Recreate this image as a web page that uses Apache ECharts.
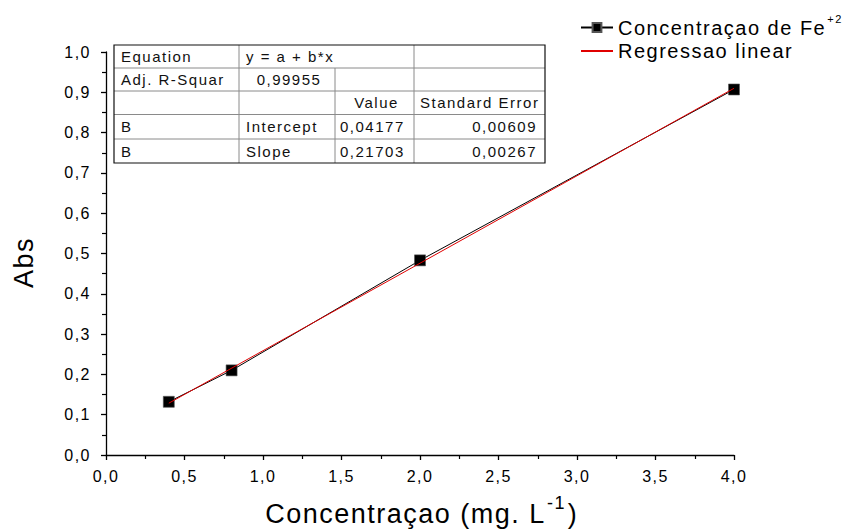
<!DOCTYPE html>
<html>
<head>
<meta charset="utf-8">
<script src="https://cdn.jsdelivr.net/npm/echarts@6/dist/echarts.min.js"></script>
<style>
  html, body { margin: 0; padding: 0; background: #fff; }
  #chart { width: 845px; height: 531px; }
  /* o Origin espaça as letras */
  #chart svg text { letter-spacing: 1.5px; }
</style>
</head>
<body>
<div id="chart"></div>
<script>
// dados
var concX = [0.4, 0.8, 2.0, 4.0];
var absY = [0.132, 0.210, 0.483, 0.907];
var regX = [0.4, 4.0];
var regY = [0.1286, 0.9099];
var serieNames = ['Concentraçao de Fe', 'Regressao linear'];

// tabela do ajuste
var tableRows = [
  ['Equation', 'y = a + b*x', '', ''],
  ['Adj. R-Squar', '0,99955', '', ''],
  ['', '', 'Value', 'Standard Error'],
  ['B', 'Intercept', '0,04177', '0,00609'],
  ['B', 'Slope', '0,21703', '0,00267']
];

var FONT = '"Liberation Sans", Arial';
function virgula(v) { return v.toFixed(1).replace('.', ','); }

var myChart = echarts.init(document.getElementById('chart'), null, { renderer: 'svg' });

// monta a tabela com graphic
var colX = [114, 239, 335, 414, 545];
var rowY = [45, 68, 91, 114.5, 139, 163];
var tableEls = [];
for (var r = 1; r < rowY.length - 1; r++) {
  tableEls.push({ type: 'line', shape: { x1: colX[0], y1: rowY[r], x2: colX[4], y2: rowY[r] }, style: { stroke: '#8a8a8a', lineWidth: 1 } });
}
for (var c = 1; c < colX.length - 1; c++) {
  for (var r2 = 0; r2 < tableRows.length; r2++) {
    if (r2 === 0 && c === 2) continue;
    tableEls.push({ type: 'line', shape: { x1: colX[c], y1: rowY[r2], x2: colX[c], y2: rowY[r2 + 1] }, style: { stroke: '#8a8a8a', lineWidth: 1 } });
  }
}
tableEls.push({ type: 'rect', shape: { x: colX[0], y: rowY[0], width: colX[4] - colX[0], height: rowY[5] - rowY[0] }, style: { fill: 'none', stroke: '#111', lineWidth: 1.2 } });
tableRows.forEach(function (row, r) {
  row.forEach(function (txt, c) {
    if (!txt) return;
    var align = 'left', x = colX[c] + 7;
    if (c === 2) x = colX[c] + 5;
    if (c === 3) x = colX[c] + 6;
    if (c === 3 && r > 2) { align = 'right'; x = colX[4] - 8; }
    if ((r === 1 && c === 1) || (r === 2 && c === 2)) { align = 'center'; x = (colX[c] + colX[c + 1]) / 2 + 2; }
    tableEls.push({
      type: 'text', x: x, y: (rowY[r] + rowY[r + 1]) / 2,
      style: { text: txt, fill: '#111', font: '15px ' + FONT, textAlign: align, textVerticalAlign: 'middle' }
    });
  });
});

var axisCommon = {
  axisLine: { lineStyle: { color: '#000', width: 1.3 } },
  axisTick: { show: true, inside: false, length: 5, lineStyle: { color: '#000', width: 1.3 } },
  minorTick: { show: true, splitNumber: 2, length: 4, lineStyle: { color: '#000', width: 1.2 } },
  splitLine: { show: false },
  axisLabel: { color: '#000', fontSize: 16, fontFamily: FONT, formatter: virgula }
};

myChart.setOption({
  backgroundColor: '#fff',
  animation: false,
  grid: { left: 106, right: 111, top: 52, bottom: 76, outerBoundsMode: 'none' },
  legend: {
    orient: 'vertical',
    left: 580,
    top: 13,
    padding: 0,
    itemGap: -2,
    itemWidth: 32,
    itemHeight: 11,
    data: serieNames,
    formatter: function (name) {
      return name === serieNames[0] ? name + '{sup|+2}' : name;
    },
    textStyle: {
      color: '#000', fontSize: 20, lineHeight: 22, fontFamily: FONT,
      rich: { sup: { fontSize: 11, lineHeight: 12, color: '#000', padding: [0, 0, 18, 28], fontFamily: FONT } }
    }
  },
  xAxis: Object.assign({
    type: 'value', min: 0, max: 4, interval: 0.5,
    name: 'Concentraçao (mg. L{sup|-1}{p|)}',
    nameLocation: 'middle', nameGap: 44,
    nameTextStyle: {
      color: '#000', fontSize: 27, lineHeight: 30, fontFamily: FONT, padding: [0, 0, 0, 17],
      rich: {
        sup: { fontSize: 18, lineHeight: 20, color: '#000', padding: [0, 0, 22, 17], fontFamily: FONT },
        p: { fontSize: 27, lineHeight: 30, color: '#000', padding: [0, 0, 0, 4], fontFamily: FONT }
      }
    }
  }, axisCommon, { axisLabel: Object.assign({}, axisCommon.axisLabel, { margin: 13 }) }),
  yAxis: Object.assign({
    type: 'value', min: 0, max: 1, interval: 0.1,
    name: 'Abs', nameLocation: 'middle', nameGap: 69, nameRotate: 90,
    nameTextStyle: { color: '#000', fontSize: 27, fontFamily: FONT, padding: [0, 18, 0, 0] }
  }, axisCommon, { axisLabel: Object.assign({}, axisCommon.axisLabel, { margin: 15 }) }),
  series: [
    {
      name: serieNames[0], type: 'line',
      data: concX.map(function (x, i) { return [x, absY[i]]; }),
      symbol: 'rect', symbolSize: 11,
      itemStyle: { color: '#000', borderColor: '#555', borderWidth: 0.6 },
      lineStyle: { color: '#000', width: 1 },
      z: 2
    },
    {
      name: serieNames[1], type: 'line',
      data: regX.map(function (x, i) { return [x, regY[i]]; }),
      symbol: 'none',
      itemStyle: { color: '#e00000', opacity: 0 },
      lineStyle: { color: '#e00000', width: 1 },
      z: 3
    }
  ],
  graphic: tableEls
});
</script>
</body>
</html>
